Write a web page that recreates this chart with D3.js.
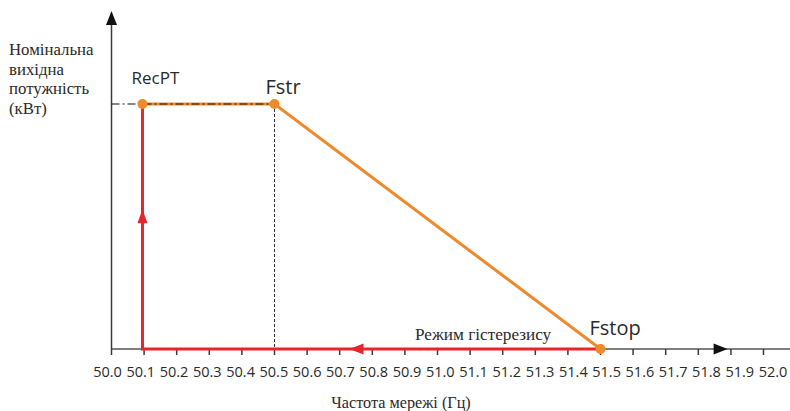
<!DOCTYPE html>
<html>
<head>
<meta charset="utf-8">
<script src="https://cdn.jsdelivr.net/npm/d3@7"></script>
<style>
  body { margin: 0; background: #fff; }
  svg { display: block; }
</style>
</head>
<body>
<div id="chart"></div>
<script>
// tick labels along the frequency axis
const freqLabels = ["50.0", "50.1", "50.2", "50.3", "50.4", "50.5", "50.6", "50.7", "50.8", "50.9",
  "51.0", "51.1", "51.2", "51.3", "51.4", "51.5", "51.6", "51.7", "51.8", "51.9", "52.0"];

// derating curve (orange): RecPT -> Fstr -> Fstop
const curveFreq = [50.095, 50.5, 51.5];
const curvePower = [1, 1, 0];
const curveNames = ["RecPT", "Fstr", "Fstop"];

// hysteresis path (red): Fstop -> back along axis -> up to RecPT
const hystFreq = [51.5, 50.095, 50.095];
const hystPower = [0, 0, 1];

const yTitle = ["Номінальна", "вихідна", "потужність", "(кВт)"];
const xTitle = "Частота мережі (Гц)";
const hystLabel = "Режим гістерезису";

const width = 790, height = 411;
const orange = "#ec8a2c", red = "#e8252a", axisCol = "#3c3a3a";

const svg = d3.select("#chart").append("svg")
  .attr("width", width)
  .attr("height", height);

const x = d3.scaleLinear().domain([50, 52]).range([111.5, 763.5]);
// labels sit on a slightly wider spacing than the ticks in the original
const xLab = d3.scaleLinear().domain([50, 52]).range([107.5, 773]);
const y = d3.scaleLinear().domain([0, 1]).range([349, 104]);

const sans = "'Open Sans', 'Noto Sans', sans-serif";
const serif = "'Liberation Serif', 'DejaVu Serif', serif";

// x axis line + ticks
svg.append("line")
  .attr("x1", x(50)).attr("x2", width)
  .attr("y1", y(0)).attr("y2", y(0))
  .attr("stroke", "#555").attr("stroke-width", 1.5);

svg.append("g").selectAll("line")
  .data(freqLabels)
  .join("line")
  .attr("x1", d => x(+d)).attr("x2", d => x(+d))
  .attr("y1", y(0)).attr("y2", y(0) + 6)
  .attr("stroke", axisCol).attr("stroke-width", 1.5);

svg.append("g").selectAll("text")
  .data(freqLabels)
  .join("text")
  .attr("x", d => xLab(+d))
  .attr("y", 377)
  .attr("text-anchor", "middle")
  .attr("font-family", sans)
  .attr("font-size", 14.5)
  .attr("fill", "#2a2a2a")
  .text(d => d);

// x axis arrow
const ax = x(51.89);
svg.append("path")
  .attr("d", `M${ax},${y(0)} L${ax - 14},${y(0) - 5.5} L${ax - 14},${y(0) + 5.5}Z`)
  .attr("fill", "#111");

// y axis line + arrow
svg.append("line")
  .attr("x1", x(50)).attr("x2", x(50))
  .attr("y1", 20).attr("y2", y(0))
  .attr("stroke", axisCol).attr("stroke-width", 1.5);
svg.append("path")
  .attr("d", `M${x(50)},11 L${x(50) - 5.5},25 L${x(50) + 5.5},25Z`)
  .attr("fill", "#111");

// dotted guide under Fstr
svg.append("line")
  .attr("x1", x(curveFreq[1])).attr("x2", x(curveFreq[1]))
  .attr("y1", y(1)).attr("y2", y(0))
  .attr("stroke", "#333").attr("stroke-width", 1)
  .attr("stroke-dasharray", "3,2");

// orange derating curve
const line = d3.line().x(d => x(d[0])).y(d => y(d[1]));
svg.append("path")
  .datum(curveFreq.map((f, i) => [f, curvePower[i]]))
  .attr("d", line)
  .attr("fill", "none")
  .attr("stroke", orange)
  .attr("stroke-width", 3);

// dash-dot rated power line
svg.append("line")
  .attr("x1", x(50)).attr("x2", x(curveFreq[1]))
  .attr("y1", y(1)).attr("y2", y(1))
  .attr("stroke", "#111").attr("stroke-width", 1)
  .attr("stroke-dasharray", "8,3,2,3");

// red hysteresis path
svg.append("path")
  .datum(hystFreq.map((f, i) => [f, hystPower[i]]))
  .attr("d", line)
  .attr("fill", "none")
  .attr("stroke", red)
  .attr("stroke-width", 3);

// red arrows
const upX = x(50.095), upY = y(0.57);
svg.append("path")
  .attr("d", `M${upX},${upY} L${upX - 5},${upY + 14} L${upX + 5},${upY + 14}Z`)
  .attr("fill", red);
const lX = x(50.73), lY = y(0);
svg.append("path")
  .attr("d", `M${lX},${lY} L${lX + 14},${lY - 5.5} L${lX + 14},${lY + 5.5}Z`)
  .attr("fill", red);

// points
svg.append("g").selectAll("circle")
  .data(curveFreq)
  .join("circle")
  .attr("cx", d => x(d))
  .attr("cy", (d, i) => y(curvePower[i]))
  .attr("r", 5)
  .attr("fill", orange);

// point labels
const labelPos = [
  { dx: -11, dy: -20, size: 17 },
  { dx: -9, dy: -10, size: 20 },
  { dx: -11, dy: -14, size: 20 }
];
svg.append("g").selectAll("text")
  .data(curveNames)
  .join("text")
  .attr("x", (d, i) => x(curveFreq[i]) + labelPos[i].dx)
  .attr("y", (d, i) => y(curvePower[i]) + labelPos[i].dy)
  .attr("font-family", sans)
  .attr("font-size", (d, i) => labelPos[i].size)
  .attr("fill", "#2a2a2a")
  .text(d => d);

// hysteresis label
svg.append("text")
  .attr("x", 415).attr("y", 340)
  .attr("font-family", serif)
  .attr("font-size", 17.2)
  .attr("fill", "#2a2a2a")
  .text(hystLabel);

// y axis title
svg.append("g").selectAll("text")
  .data(yTitle)
  .join("text")
  .attr("x", 9)
  .attr("y", (d, i) => 55 + i * 19.5)
  .attr("font-family", serif)
  .attr("font-size", 16.8)
  .attr("fill", "#2a2a2a")
  .text(d => d);

// x axis title
svg.append("text")
  .attr("x", 401).attr("y", 408)
  .attr("text-anchor", "middle")
  .attr("font-family", serif)
  .attr("font-size", 16.2)
  .attr("fill", "#2a2a2a")
  .text(xTitle);
</script>
</body>
</html>
